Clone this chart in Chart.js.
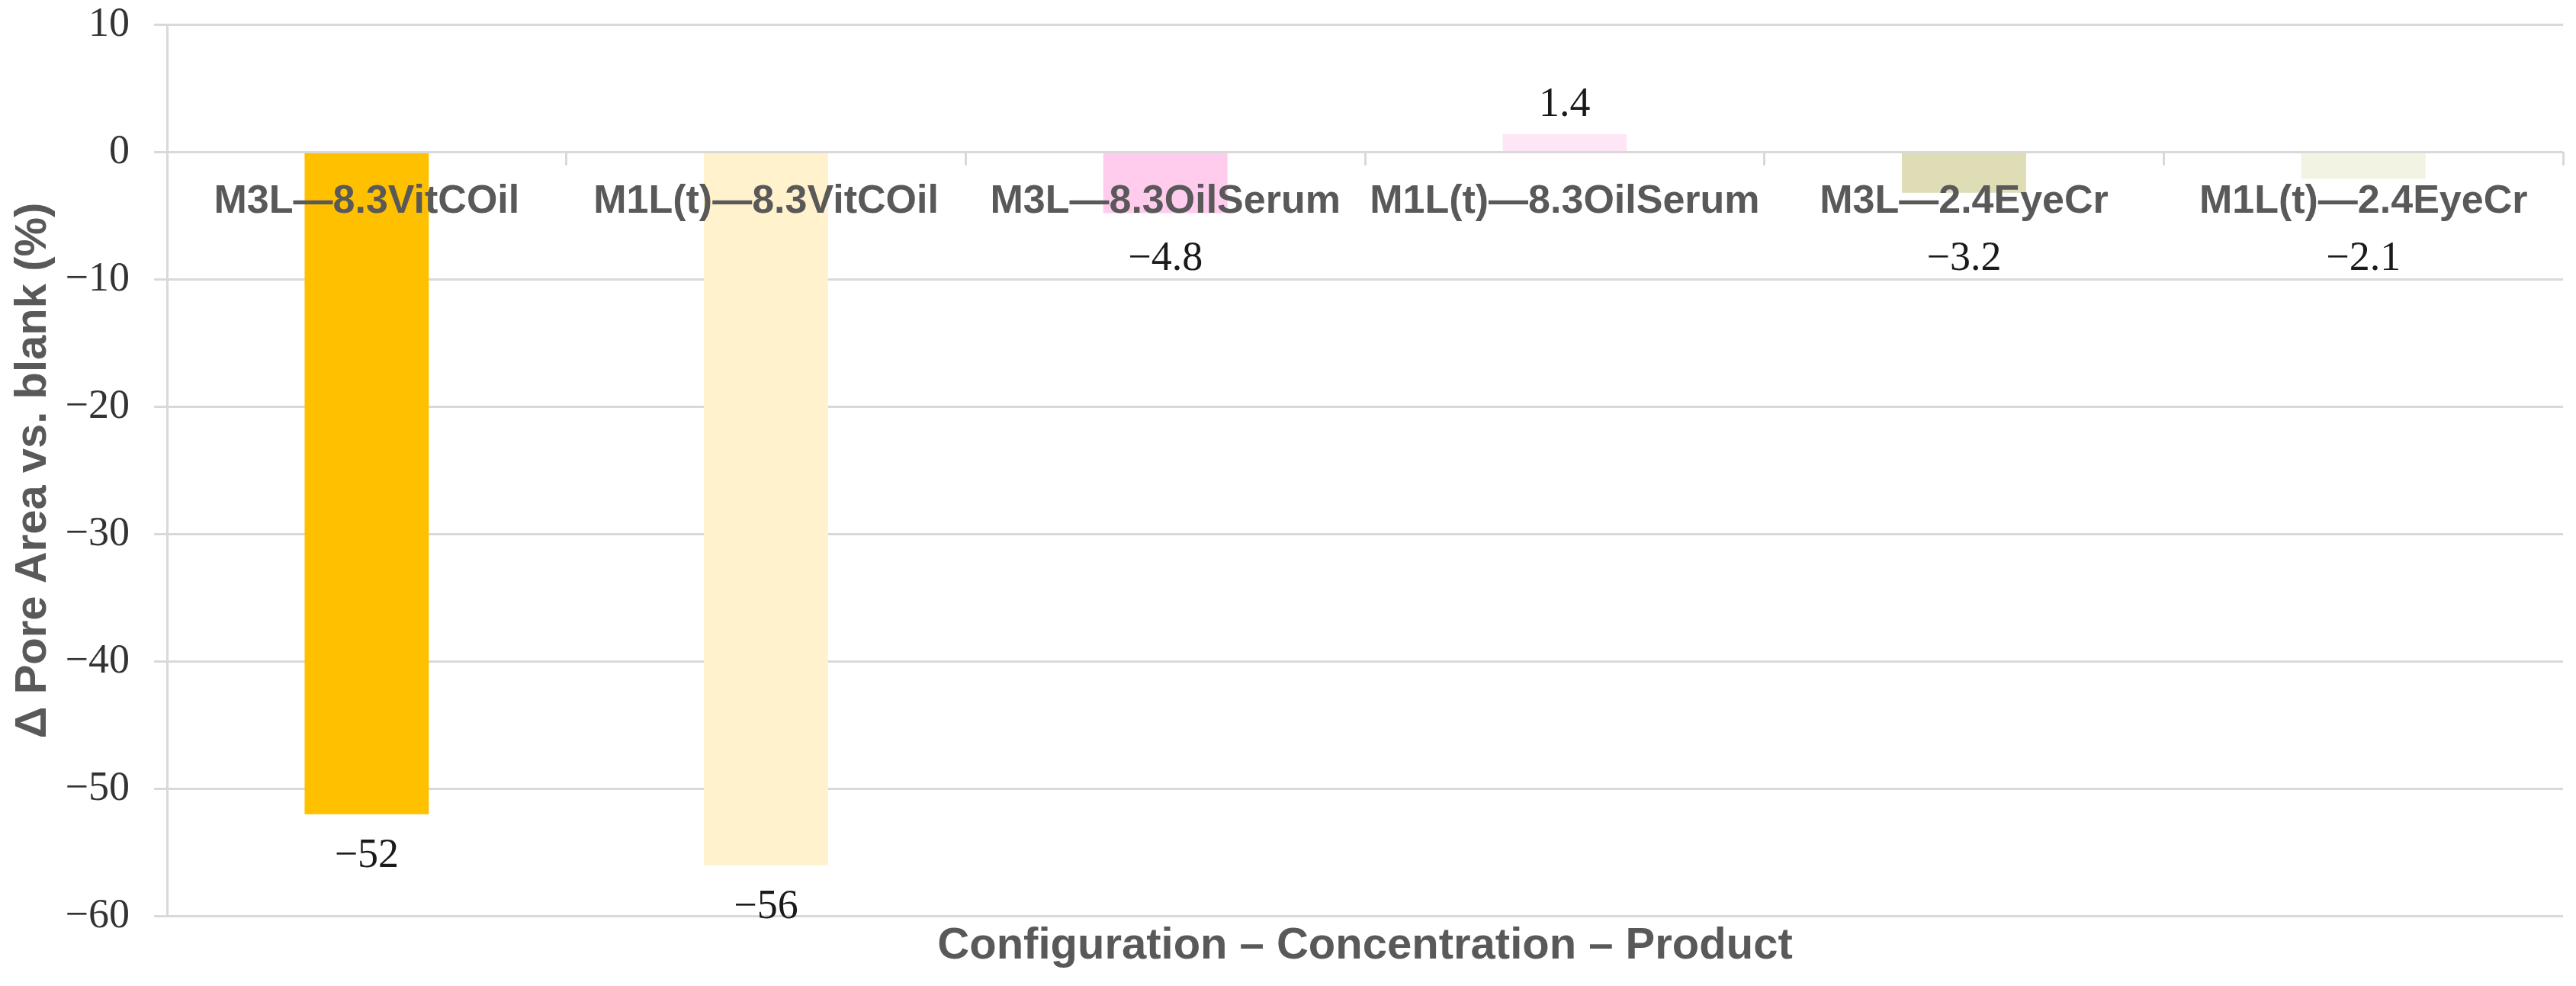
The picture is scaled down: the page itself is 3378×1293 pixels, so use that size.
<!DOCTYPE html>
<html>
<head>
<meta charset="utf-8">
<script src="https://cdn.jsdelivr.net/npm/chart.js@4/dist/chart.umd.min.js"></script>
<style>
  html, body { margin: 0; padding: 0; background: #fff; }
  #wrap { width: 3378px; height: 1293px; }
</style>
</head>
<body>
<div id="wrap"><canvas id="chart"></canvas></div>
<script>
const categories = ['M3L—8.3VitCOil', 'M1L(t)—8.3VitCOil', 'M3L—8.3OilSerum', 'M1L(t)—8.3OilSerum', 'M3L—2.4EyeCr', 'M1L(t)—2.4EyeCr'];
const poreChange = [-52, -56, -4.8, 1.4, -3.2, -2.1];
const barColors = ['#FFC000', '#FFF2CC', '#FFCCEE', '#FFE6F7', '#DFDDB5', '#F3F3E3'];
const yTicks = [10, 0, -10, -20, -30, -40, -50, -60];

const gridColor = '#d9d9d9';
const minus = (v) => (v < 0 ? '−' + Math.abs(v) : String(v));

// value labels under / over each bar
const valueLabels = {
  id: 'valueLabels',
  afterDatasetsDraw(chart) {
    const { ctx } = chart;
    const zeroY = chart.scales.y.getPixelForValue(0);
    const meta = chart.getDatasetMeta(0);
    ctx.save();
    ctx.font = '54px "Liberation Serif", "Times New Roman", serif';
    ctx.fillStyle = '#1a1a1a';
    ctx.textAlign = 'center';
    ctx.textBaseline = 'middle';
    meta.data.forEach((bar, i) => {
      const v = poreChange[i];
      const y = v < 0 ? Math.max(bar.y + 55, zeroY + 140) : bar.y - 38;
      ctx.fillText(minus(v), bar.x, y);
    });
    ctx.restore();
  },
};

new Chart(document.getElementById('chart'), {
  type: 'bar',
  data: {
    labels: categories,
    datasets: [{
      data: poreChange,
      backgroundColor: barColors,
      borderWidth: 0,
      categoryPercentage: 1,
      barPercentage: 0.311,
    }],
  },
  options: {
    responsive: true,
    maintainAspectRatio: false,
    animation: false,
    devicePixelRatio: 1,
    layout: { padding: { top: 0, right: 17, bottom: 0, left: 0 } },
    plugins: { legend: { display: false }, tooltip: { enabled: false } },
    scales: {
      x: {
        position: { y: 0 },
        offset: true,
        grid: { offset: true, drawOnChartArea: false, drawTicks: true, tickLength: 18, color: gridColor, lineWidth: 3 },
        border: { display: false },
        ticks: {
          z: 1,
          autoSkip: false,
          maxRotation: 0,
          padding: 16,
          color: '#595959',
          font: { family: '"Liberation Sans", Arial, sans-serif', size: 52, weight: 'bold' },
        },
      },
      x2: {
        position: 'bottom',
        grid: { display: false, drawTicks: false },
        border: { display: false },
        ticks: { display: false },
        title: {
          display: true,
          text: 'Configuration – Concentration – Product',
          color: '#595959',
          padding: { top: 5, bottom: 17 },
          font: { family: '"Liberation Sans", Arial, sans-serif', size: 58, weight: 'bold' },
        },
      },
      y: {
        min: Math.min(...yTicks),
        max: Math.max(...yTicks),
        afterBuildTicks: (scale) => { scale.ticks = yTicks.map((v) => ({ value: v })); },
        afterFit: (scale) => {
          // labels only need their padding on the axis side
          const p = scale.options.ticks.padding;
          scale.width -= p;
          scale.paddingTop -= p;
          scale.paddingBottom -= p;
        },
        grid: { color: gridColor, lineWidth: 3, drawTicks: true, tickLength: 17 },
        border: { display: true, color: gridColor, width: 3 },
        ticks: {
          padding: 32,
          color: '#333333',
          callback: (v) => minus(v),
          font: { family: '"Liberation Serif", "Times New Roman", serif', size: 54 },
        },
        title: {
          display: true,
          text: 'Δ Pore Area vs. blank (%)',
          color: '#595959',
          padding: { top: 9, bottom: 7 },
          font: { family: '"Liberation Sans", Arial, sans-serif', size: 58, weight: 'bold' },
        },
      },
    },
  },
  plugins: [valueLabels],
});
</script>
</body>
</html>
